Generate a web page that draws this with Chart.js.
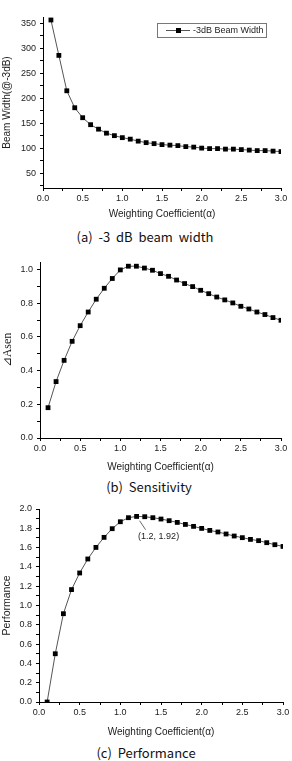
<!DOCTYPE html>
<html lang="en">
<head>
<meta charset="UTF-8">
<title>Weighting coefficient</title>
<style>
  body { margin: 0; background: #fff; width: 292px; height: 761px; position: relative; overflow: hidden; }
  canvas { position: absolute; left: 0; }
  .cap { position: absolute; left: 0; width: 292px; text-align: center; white-space: pre;
         font: 13px "Noto Sans CJK KR", "Noto Sans", sans-serif; color: #111; line-height: 16px; }
  .legend { position: absolute; left: 157px; top: 23px; width: 108px; height: 13px; border: 1px solid #777;
            font: 9px "Liberation Sans", Arial, sans-serif; color: #222; }
  .legend .ln { position: absolute; left: 8px; top: 6px; width: 24px; height: 1px; background: #555; }
  .legend .sq { position: absolute; left: 18px; top: 4px; width: 5px; height: 5px; background: #000; }
  .legend .tx { position: absolute; left: 35px; top: 1px; line-height: 11px; }
</style>
</head>
<body>
  <canvas id="chartA" width="292" height="220" style="top:0px"></canvas>
  <div class="legend"><span class="ln"></span><span class="sq"></span><span class="tx">-3dB Beam Width</span></div>
  <div class="cap" style="top:229px; left:-1px">(a)  -3  dB  beam  width</div>

  <canvas id="chartB" width="292" height="229" style="top:244px"></canvas>
  <div class="cap" style="top:479px; left:3px">(b)  Sensitivity</div>

  <canvas id="chartC" width="292" height="243" style="top:495px"></canvas>
  <div class="cap" style="top:745px; left:0px">(c)  Performance</div>

  <script src="https://cdn.jsdelivr.net/npm/chart.js"></script>
  <script>
    // valores
    const alpha = [0.1, 0.2, 0.3, 0.4, 0.5, 0.6, 0.7, 0.8, 0.9, 1.0,
                   1.1, 1.2, 1.3, 1.4, 1.5, 1.6, 1.7, 1.8, 1.9, 2.0,
                   2.1, 2.2, 2.3, 2.4, 2.5, 2.6, 2.7, 2.8, 2.9, 3.0];
    const beamWidth = [357, 286, 215, 181, 161, 147, 138, 130, 125, 121,
                       118, 114, 111, 109, 107, 106, 105, 103, 102, 100,
                       99, 99, 98, 98, 97, 96, 95, 95, 94, 93];
    const sensitivity = [0.18, 0.335, 0.461, 0.574, 0.667, 0.748, 0.824, 0.889, 0.947, 0.998,
                         1.02, 1.02, 1.009, 0.996, 0.976, 0.96, 0.938, 0.917, 0.899, 0.877,
                         0.857, 0.837, 0.82, 0.802, 0.782, 0.766, 0.748, 0.733, 0.715, 0.699];
    const performance = [0.0, 0.5, 0.915, 1.165, 1.337, 1.482, 1.602, 1.706, 1.796, 1.868,
                         1.91, 1.923, 1.92, 1.91, 1.896, 1.879, 1.861, 1.84, 1.82, 1.799,
                         1.778, 1.762, 1.741, 1.72, 1.703, 1.685, 1.672, 1.651, 1.63, 1.612];

    // ticks
    const xTicks = [0, 0.5, 1, 1.5, 2, 2.5, 3];
    const xTickLabels = ['0.0', '0.5', '1.0', '1.5', '2.0', '2.5', '3.0'];
    const beamTicks = [50, 100, 150, 200, 250, 300, 350];
    const beamTickLabels = ['50', '100', '150', '200', '250', '300', '350'];
    const sensTicks = [0, 0.2, 0.4, 0.6, 0.8, 1.0];
    const sensTickLabels = ['0.0', '0.2', '0.4', '0.6', '0.8', '1.0'];
    const perfTicks = [0, 0.2, 0.4, 0.6, 0.8, 1.0, 1.2, 1.4, 1.6, 1.8, 2.0];
    const perfTickLabels = ['0.0', '0.2', '0.4', '0.6', '0.8', '1.0', '1.2', '1.4', '1.6', '1.8', '2.0'];

    // anotação do pico
    const peakX = 1.2;
    const peakY = 1.92;
    const peakLabel = '(1.2, 1.92)';

    const tickFont = { family: '"Liberation Sans", Arial, sans-serif', size: 9 };
    const titleFont = { family: '"Liberation Sans", Arial, sans-serif', size: 10 };

    // major + minor ticks (minor no meio)
    function withMinor(major, extra) {
      const all = major.slice();
      for (let i = 0; i < major.length - 1; i++) all.push((major[i] + major[i + 1]) / 2);
      return all.concat(extra || []).sort((a, b) => a - b);
    }

    function labelFor(major, labels) {
      return function (value) {
        for (let i = 0; i < major.length; i++) {
          if (Math.abs(major[i] - value) < 1e-6) return labels[i];
        }
        return '';
      };
    }

    function axis(opts) {
      return {
        type: 'linear',
        min: opts.min,
        max: opts.max,
        border: { color: '#000', width: 1 },
        grid: { drawOnChartArea: false, drawTicks: true, tickLength: 3, color: '#000' },
        ticks: {
          color: '#222', font: tickFont, padding: opts.pad, autoSkip: false, maxRotation: 0,
          callback: labelFor(opts.major, opts.labels)
        },
        afterBuildTicks: s => { s.ticks = withMinor(opts.major, opts.extra).map(v => ({ value: v })); },
        afterFit: s => { if (opts.w) s.width = opts.w; if (opts.h) s.height = opts.h; },
        title: {
          display: true, text: opts.title, color: '#222',
          font: opts.titleFont || titleFont, padding: { top: opts.tpad || 0, bottom: 0 }
        }
      };
    }

    function points(ys) {
      return alpha.map((a, i) => ({ x: a, y: ys[i] }));
    }

    function makeChart(id, ys, cfg, plugins) {
      return new Chart(document.getElementById(id), {
        type: 'line',
        data: {
          datasets: [{
            data: points(ys),
            borderColor: '#555',
            borderWidth: 1,
            pointStyle: 'rect',
            pointRadius: 3.4,
            pointBackgroundColor: '#000',
            pointBorderWidth: 0,
            tension: 0
          }]
        },
        options: {
          responsive: false,
          animation: false,
          devicePixelRatio: 1,
          layout: { padding: cfg.padding },
          plugins: { legend: { display: false }, tooltip: { enabled: false } },
          scales: {
            x: axis({ min: 0, max: 3, major: xTicks, labels: xTickLabels, pad: 2, h: cfg.xh,
                      title: 'Weighting Coefficient(\u03b1)' }),
            y: axis(cfg.y)
          }
        },
        plugins: plugins || []
      });
    }

    // (a) largura do feixe
    makeChart('chartA', beamWidth, {
      padding: { top: 17, right: 11, left: 0, bottom: 0 },
      xh: 32,
      y: { min: 20, max: 363, major: beamTicks, labels: beamTickLabels, extra: [25], pad: 4, w: 43,
           tpad: 1, title: 'Beam Width(@-3dB)' }
    });

    // (b) sensibilidade
    makeChart('chartB', sensitivity, {
      padding: { top: 18, right: 11, left: 0, bottom: 0 },
      xh: 35,
      y: { min: 0, max: 1.045, major: sensTicks, labels: sensTickLabels, pad: 4, w: 40, tpad: 1,
           title: '\u22bfAsen', titleFont: { family: '"Liberation Serif", "DejaVu Serif", serif', size: 12 } }
    });

    // (c) desempenho
    const peakNote = {
      id: 'peakNote',
      afterDatasetsDraw(chart) {
        const { ctx, scales: { x, y } } = chart;
        const px = x.getPixelForValue(peakX);
        const py = y.getPixelForValue(peakY);
        ctx.save();
        ctx.strokeStyle = '#444';
        ctx.lineWidth = 0.8;
        ctx.beginPath();
        ctx.moveTo(px + 3, py + 4);
        ctx.lineTo(px + 9, py + 13);
        ctx.stroke();
        ctx.font = '9px "Liberation Sans", Arial, sans-serif';
        ctx.fillStyle = '#222';
        ctx.textBaseline = 'middle';
        ctx.fillText(peakLabel, px + 1.5, py + 19.5);
        ctx.restore();
      }
    };

    makeChart('chartC', performance, {
      padding: { top: 14, right: 9, left: 0, bottom: 0 },
      xh: 36,
      y: { min: 0, max: 2.0, major: perfTicks, labels: perfTickLabels, pad: 4, w: 39, tpad: 1,
           title: 'Performance', titleFont: { family: '"Liberation Sans", Arial, sans-serif', size: 10.5 } }
    }, [peakNote]);
  </script>
</body>
</html>
